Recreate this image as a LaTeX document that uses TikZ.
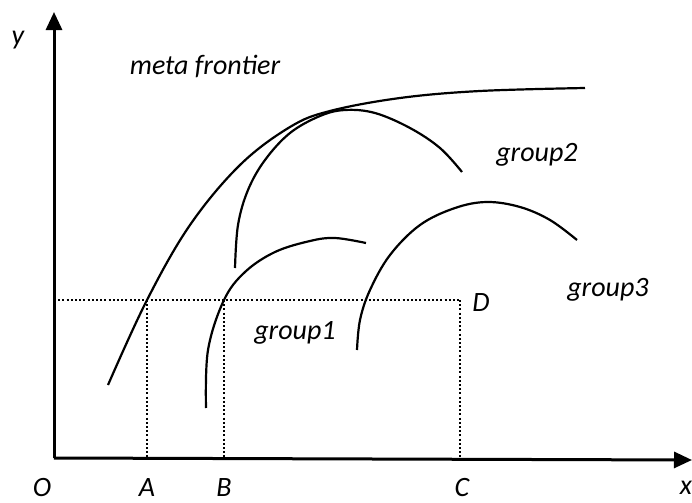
\documentclass[tikz,border=0pt]{standalone}
\usepackage{fontspec}
\setmainfont{Carlito}
\usetikzlibrary{arrows.meta}
\begin{document}
\begin{tikzpicture}[x=0.5pt,y=-0.5pt,
  axis/.style={line width=1.5pt,-{Triangle[width=8pt,length=9pt]}},
  curve/.style={line width=1.1pt},
  guide/.style={line width=1pt,dash pattern=on 1pt off 1.1pt},
  lbl/.style={font=\fontsize{14}{16}\selectfont\itshape,inner sep=0pt}]
\useasboundingbox (0,0) rectangle (692,503);
% axes
\coordinate (O) at (54,458);
\coordinate (ytip) at (54,12);
\coordinate (xtip) at (692,460);
\draw[axis] (O) -- (ytip);
\draw[axis] (O) -- (xtip);
% guide points
\coordinate (yD) at (54,300);
\coordinate (pA) at (147,300);
\coordinate (pB) at (224,300);
\coordinate (pD) at (460,300);
\coordinate (xA) at (147,458);
\coordinate (xB) at (224,458);
\coordinate (xC) at (460,458);
\draw[guide] (yD) -- (pD);
\draw[guide] (pA) -- (xA);
\draw[guide] (pB) -- (xB);
\draw[guide] (pD) -- (xC);
% curves
\draw[curve] plot[smooth,tension=0.6] coordinates {(108,385) (147,300) (190,225) (240,165) (290,127) (330,111) (400,98) (480,91) (585,88)};
\draw[curve] plot[smooth,tension=0.6] coordinates {(235,268) (238,225) (248,190) (265,160) (290,133) (320,116) (345,110) (375,113) (410,128) (440,148) (462,172)};
\draw[curve] plot[smooth,tension=0.6] coordinates {(206,408) (208,350) (224,300) (245,272) (275,252) (310,241) (335,238) (366,243)};
\draw[curve] plot[smooth,tension=0.6] coordinates {(357,350) (360,320) (370,290) (390,255) (420,225) (455,208) (487,202) (520,207) (550,220) (577,240)};
% labels
\node[lbl] (ly) at (18,40) {y};
\node[lbl] (lx) at (686,488) {x};
\node[lbl] (lO) at (42,488) {O};
\node[lbl] (lA) at (147,488) {A};
\node[lbl] (lB) at (224,488) {B};
\node[lbl] (lC) at (462,488) {C};
\node[lbl] (lD) at (481,303) {D};
\node[lbl] (meta) at (205,66) {meta frontier};
\node[lbl] (g2) at (537,155) {group2};
\node[lbl] (g3) at (608,290) {group3};
\node[lbl] (g1) at (295,333) {group1};
\end{tikzpicture}
\end{document}
